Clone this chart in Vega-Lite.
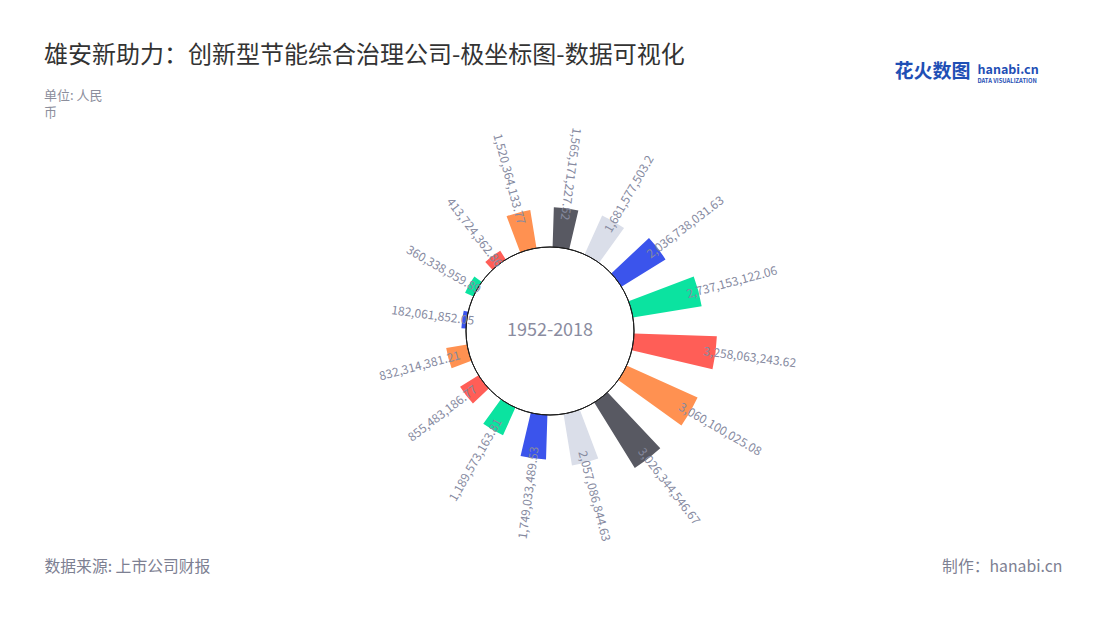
{
  "$schema": "https://vega.github.io/schema/vega-lite/v6.json",
  "width": 1018,
  "height": 422,
  "autosize": {"type": "none"},
  "padding": {"top": 120, "left": 41, "right": 41, "bottom": 78},
  "background": "white",
  "config": {"view": {"stroke": null}, "font": "Noto Sans CJK SC"},
  "title": {
    "text": "雄安新助力：创新型节能综合治理公司-极坐标图-数据可视化",
    "subtitle": ["单位: 人民", "币"],
    "anchor": "start",
    "frame": "group",
    "dx": 3,
    "offset": -58,
    "font": "Noto Sans CJK SC",
    "fontSize": 24,
    "fontWeight": "normal",
    "color": "#333333",
    "subtitleFont": "Noto Sans CJK SC",
    "subtitleFontSize": 13,
    "subtitleColor": "#8c8e9c",
    "subtitleLineHeight": 17,
    "subtitlePadding": 22
  },
  "data": {
    "values": [
      {"k": 0, "value": 182061852.05},
      {"k": 1, "value": 360338959.89},
      {"k": 2, "value": 413724362.86},
      {"k": 3, "value": 1520364133.77},
      {"k": 4, "value": 1565171227.52},
      {"k": 5, "value": 1681577503.2},
      {"k": 6, "value": 2036738031.63},
      {"k": 7, "value": 2737153122.06},
      {"k": 8, "value": 3258063243.62},
      {"k": 9, "value": 3060100025.08},
      {"k": 10, "value": 3026344546.67},
      {"k": 11, "value": 2057086844.63},
      {"k": 12, "value": 1749033489.53},
      {"k": 13, "value": 1189573163.81},
      {"k": 14, "value": 855483186.77},
      {"k": 15, "value": 832314381.21}
    ]
  },
  "layer": [
    {
      "mark": {"type": "arc", "thetaOffset": -0.1, "theta2Offset": 0.1},
      "encoding": {
        "theta": {"field": "k", "type": "quantitative", "stack": null,
                  "scale": {"domain": [0, 16], "range": [4.8434, 11.12659], "zero": false, "nice": false}},
        "theta2": {"field": "k"},
        "radius": {"field": "value", "type": "quantitative", "stack": null,
                   "scale": {"type": "linear", "domain": [0, 3300000000], "range": [84, 168], "zero": true, "nice": false}},
        "radius2": {"datum": 0},
        "color": {"field": "k", "type": "ordinal", "legend": null,
                  "scale": {"type": "ordinal", "domain": [0,1,2,3,4,5,6,7,8,9,10,11,12,13,14,15],
                            "range": ["#3b54ec","#0be3a0","#ff5e57","#ff9151","#585962","#dadee9","#3b54ec","#0be3a0","#ff5e57","#ff9151","#585962","#dadee9","#3b54ec","#0be3a0","#ff5e57","#ff9151"]}}
      }
    },
    {
      "data": {"values": [{"r": 0}]},
      "mark": {"type": "arc", "theta": 6.2832, "fill": "white", "stroke": "#1a1a1a", "strokeWidth": 1},
      "encoding": {
        "radius": {"field": "r", "type": "quantitative", "stack": null}
      }
    },
    {
      "mark": {"type": "text", "radiusOffset": -12, "fontSize": 12, "color": "#868a9f", "baseline": "middle",
               "font": "Noto Sans CJK SC",
               "align": {"expr": "datum.k >= 5 && datum.k <= 11 ? 'left' : 'right'"}},
      "encoding": {
        "theta": {"field": "k", "type": "quantitative", "stack": null},
        "radius": {"field": "value", "type": "quantitative", "stack": null},
        "text": {"field": "value", "type": "quantitative", "format": ",.2~f"},
        "angle": {"field": "k", "type": "ordinal", "legend": null,
                  "scale": {"type": "ordinal", "domain": [0,1,2,3,4,5,6,7,8,9,10,11,12,13,14,15],
                            "range": [7.5, 30, 52.5, 75, 97.5, -60, -37.5, -15, 7.5, 30, 52.5, 75, -82.5, -60, -37.5, -15]}}
      }
    },
    {
      "data": {"values": [{"label": "1952-2018"}]},
      "mark": {"type": "text", "fontSize": 18, "color": "#8a8ca0", "font": "Noto Sans CJK SC", "align": "center", "baseline": "middle"},
      "encoding": {
        "text": {"field": "label", "type": "nominal"}
      }
    },
    {
      "data": {"values": [{"v": 0.5}]},
      "mark": {"type": "point", "opacity": 0},
      "encoding": {
        "x": {"field": "v", "type": "quantitative",
              "scale": {"domain": [0, 1], "nice": false, "zero": false},
              "axis": {"orient": "bottom", "values": [0, 1], "title": null, "domain": false, "ticks": false, "tickSize": 0, "grid": false,
                       "labelExpr": "datum.value == 0 ? '数据来源: 上市公司财报' : '制作：hanabi.cn'",
                       "labelAlign": {"condition": {"test": "datum.value == 0", "value": "left"}, "value": "right"},
                       "labelOffset": 3, "labelPadding": 17, "labelFontSize": 15.8, "labelColor": "#7d8092",
                       "labelFont": "Noto Sans CJK SC", "labelOverlap": false, "labelBound": false, "labelFlush": false}},
        "y": {"field": "v", "type": "quantitative",
              "scale": {"domain": [0, 1], "nice": false, "zero": false},
              "axis": {"orient": "right", "values": [1, 0.999, 0.998], "title": null, "domain": false, "ticks": false, "tickSize": 0, "grid": false,
                       "labelExpr": "datum.value == 1 ? '花火数图' : (datum.value == 0.999 ? 'hanabi.cn' : 'DATA VISUALIZATION')",
                       "labelAlign": {"condition": {"test": "datum.value == 1", "value": "right"}, "value": "left"},
                       "labelBaseline": "middle",
                       "labelPadding": {"condition": {"test": "datum.value == 1", "value": -89}, "value": -82},
                       "labelOffset": {"condition": [{"test": "datum.value == 1", "value": -49}, {"test": "datum.value == 0.999", "value": -51}], "value": -40},
                       "labelFontSize": {"condition": [{"test": "datum.value == 1", "value": 19}, {"test": "datum.value == 0.999", "value": 12.5}], "value": 5.8},
                       "labelFontWeight": "bold",
                       "labelColor": "#1f4fb5",
                       "labelFont": "Noto Sans CJK SC", "labelOverlap": false, "labelBound": false, "labelFlush": false}}
      }
    }
  ]
}
